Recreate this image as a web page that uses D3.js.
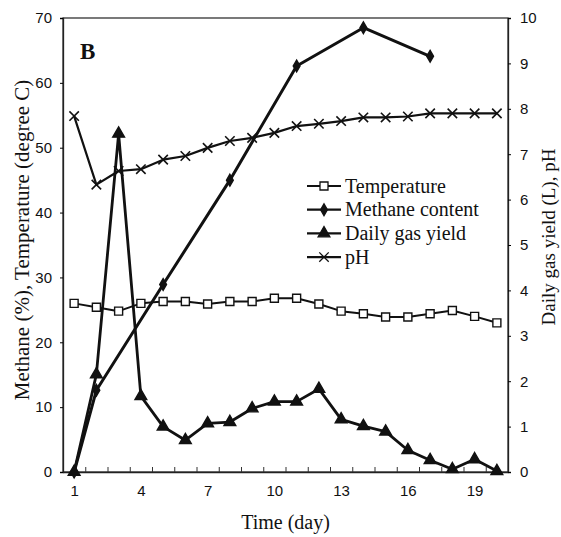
<!DOCTYPE html>
<html>
<head>
<meta charset="utf-8">
<script src="https://cdn.jsdelivr.net/npm/d3@7"></script>
<style>
  body { margin: 0; background: #fff; }
  svg { font-family: "Liberation Serif", "Times New Roman", serif; }
  .tick text { font-size: 15px; fill: #111; }
</style>
</head>
<body>
<div class="chart"></div>
<script>
// Data
const days = d3.range(1, 21);
const temperature = [26, 25.4, 24.8, 26, 26.3, 26.3, 25.9, 26.3, 26.3, 26.8, 26.8, 25.9, 24.8, 24.4, 23.9, 23.9, 24.4, 24.9, 24, 23];
const methaneDays = [1, 2, 5, 8, 11, 14, 17];
const methane = [0, 12.6, 28.9, 45, 62.6, 68.5, 64.1];
const gasYield = [0, 2.15, 7.45, 1.67, 1.0, 0.7, 1.07, 1.1, 1.4, 1.55, 1.55, 1.83, 1.16, 1.01, 0.89, 0.48, 0.26, 0.06, 0.28, 0.02];
const pH = [7.84, 6.33, 6.63, 6.67, 6.88, 6.96, 7.14, 7.29, 7.36, 7.47, 7.62, 7.67, 7.73, 7.81, 7.81, 7.83, 7.9, 7.9, 7.9, 7.9];
const xTickLabels = [1, 4, 7, 10, 13, 16, 19];
const leftTicks = d3.range(0, 71, 10);
const rightTicks = d3.range(0, 11, 1);
const legendNames = ["Temperature", "Methane content", "Daily gas yield", "pH"];

const width = 561, height = 537;
const margin = { top: 18, right: 53, bottom: 65, left: 63 };

const svg = d3.select(".chart").append("svg")
  .attr("width", width).attr("height", height);

// Scales
const x = d3.scaleLinear().domain([0.5, 20.5]).range([margin.left, width - margin.right]);
const yL = d3.scaleLinear().domain([0, 70]).range([height - margin.bottom, margin.top]);
const yR = d3.scaleLinear().domain([0, 10]).range([height - margin.bottom, margin.top]);

// Plot frame
svg.append("rect")
  .attr("x", x(0.5)).attr("y", yL(70))
  .attr("width", x(20.5) - x(0.5)).attr("height", yL(0) - yL(70))
  .attr("fill", "none").attr("stroke", "#222").attr("stroke-width", 1.2);

// Bottom axis: ticks at category boundaries
svg.append("g")
  .attr("transform", `translate(0,${yL(0)})`)
  .call(d3.axisBottom(x).tickValues(d3.range(0.5, 20.6, 1)).tickFormat("").tickSizeInner(-5).tickSizeOuter(0))
  .call(g => g.select(".domain").attr("stroke", "#222").attr("stroke-width", 1.5))
  .call(g => g.selectAll(".tick line").attr("stroke", "#333"));
svg.append("g")
  .attr("transform", `translate(0,${yL(0)})`)
  .call(d3.axisBottom(x).tickValues(xTickLabels).tickSize(0).tickPadding(13))
  .call(g => g.select(".domain").remove());

// Left axis
svg.append("g")
  .attr("transform", `translate(${x(0.5)},0)`)
  .call(d3.axisLeft(yL).tickValues(leftTicks).tickSize(3).tickPadding(8))
  .call(g => g.select(".domain").attr("stroke", "#222").attr("stroke-width", 1.3));

// Right axis
svg.append("g")
  .attr("transform", `translate(${x(20.5)},0)`)
  .call(d3.axisRight(yR).tickValues(rightTicks).tickSize(3).tickPadding(9))
  .call(g => g.select(".domain").attr("stroke", "#222").attr("stroke-width", 1.3));

// Axis titles
svg.append("text")
  .attr("transform", `translate(29,${(yL(0) + yL(70)) / 2 - 5}) rotate(-90)`)
  .attr("text-anchor", "middle").style("font-size", "21px").attr("fill", "#111")
  .text("Methane (%), Temperature (degree C)");
svg.append("text")
  .attr("transform", `translate(555,${(yL(0) + yL(70)) / 2 - 8}) rotate(-90)`)
  .attr("text-anchor", "middle").style("font-size", "19px").attr("fill", "#111")
  .text("Daily gas yield (L), pH");
svg.append("text")
  .attr("x", (x(0.5) + x(20.5)) / 2).attr("y", 529)
  .attr("text-anchor", "middle").style("font-size", "20px").attr("fill", "#111")
  .text("Time (day)");

// Panel letter
svg.append("text")
  .attr("x", 80).attr("y", 59)
  .style("font-size", "23px").style("font-weight", "bold").attr("fill", "#111")
  .text("B");

// Series
const plot = svg.append("g");
function drawLine(xs, ys, yScale, sw) {
  plot.append("path")
    .datum(xs.map((d, i) => [d, ys[i]]))
    .attr("fill", "none").attr("stroke", "#111").attr("stroke-width", sw)
    .attr("stroke-linejoin", "round")
    .attr("d", d3.line().x(d => x(d[0])).y(d => yScale(d[1])));
}
const sym = {
  square: d3.symbol().type(d3.symbolSquare).size(64),
  diamond: d3.symbol().type(d3.symbolDiamond).size(40),
  triangle: d3.symbol().type(d3.symbolTriangle).size(60),
  cross: d3.symbol().type(d3.symbolX).size(60)
};
function drawMarks(xs, ys, yScale, kind) {
  plot.append("g").selectAll("path")
    .data(xs.map((d, i) => [d, ys[i]]))
    .enter().append("path")
    .attr("transform", d => `translate(${x(d[0])},${yScale(d[1])})`)
    .attr("d", sym[kind])
    .attr("fill", kind === "square" ? "#fff" : "#111")
    .attr("stroke", "#111")
    .attr("stroke-width", kind === "cross" ? 1.6 : 1.4);
}

drawLine(days, pH, yR, 2.2);
drawLine(days, temperature, yL, 2);
drawLine(methaneDays, methane, yL, 3);
drawLine(days, gasYield, yR, 2.8);
drawMarks(days, pH, yR, "cross");
drawMarks(days, temperature, yL, "square");
drawMarks(methaneDays, methane, yL, "diamond");
drawMarks(days, gasYield, yR, "triangle");

// Legend
const legendKinds = ["square", "diamond", "triangle", "cross"];
const legend = svg.append("g").attr("transform", "translate(307,186)");
legendNames.forEach((name, i) => {
  const g = legend.append("g").attr("transform", `translate(0,${i * 23.7})`);
  g.append("line").attr("x1", 0).attr("x2", 34).attr("y1", 0).attr("y2", 0)
    .attr("stroke", "#111").attr("stroke-width", 2.2);
  g.append("path").attr("transform", "translate(17,0)")
    .attr("d", sym[legendKinds[i]])
    .attr("fill", legendKinds[i] === "square" ? "#fff" : "#111")
    .attr("stroke", "#111").attr("stroke-width", 1.3);
  g.append("text").attr("x", 38).attr("y", 6.5)
    .style("font-size", "20px").attr("fill", "#111").text(name);
});
</script>
</body>
</html>
